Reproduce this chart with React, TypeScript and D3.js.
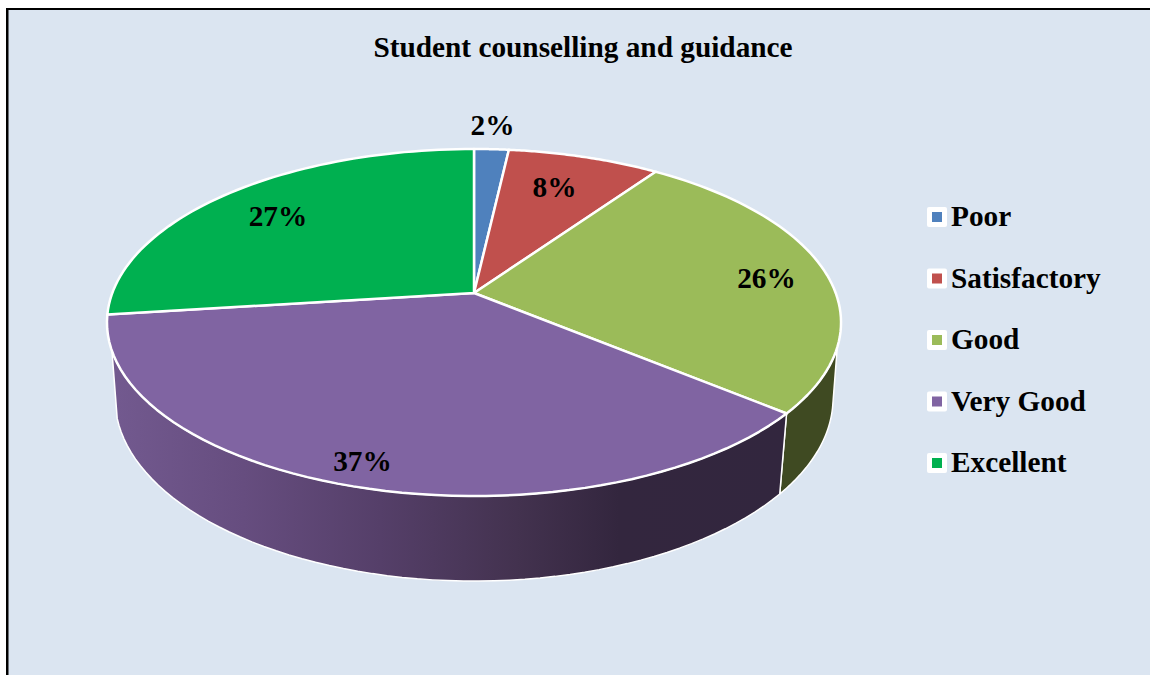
import React from "react";
import * as d3 from "d3";

const categories = ["Poor", "Satisfactory", "Good", "Very Good", "Excellent"];
const shares = [1.8, 7.9, 26.3, 37, 27];
const labels = ["2%", "8%", "26%", "37%", "27%"];
const colors = ["#4f81bd", "#c0504d", "#9bbb59", "#8064a2", "#00b050"];
const sideColors = ["#2f4d71", "#73302e", "#3f4a22", "url(#sideGrad)", "#006a30"];
const labelAnchors = [[492.5, 124.5], [554.5, 186.5], [766.5, 277.5], [362.5, 460.5], [278, 215.5]];

const W = 1150, H = 675;
const K = 0.17;
const deg = Math.PI / 180;
// Perspective mapping of the unit disc onto the top and bottom planes of the pie.
const topPlane = { cx: 474, cy: 293, a: 361.7, b: 168.5 };
const lowPlane = { cx: 474, cy: 367, a: 353.8, b: 177.7 };
// Angular window of the side wall that faces the viewer, on each plane.
const topVisible = [107.8 * deg, 251 * deg];
const lowVisible = [102 * deg, 254 * deg];
type Plane = typeof topPlane;
const project = (p: Plane, t: number): [number, number] => {
  const u = Math.sin(t), v = -Math.cos(t), w = 1 - K * v;
  return [p.cx + (p.a * u) / w, p.cy + (p.b * v) / w];
};
const samples = (a: number, b: number) => d3.range(0, 61).map((i) => a + ((b - a) * i) / 60);

const pie = d3.pie<number>().sort(null).startAngle(0).endAngle(2 * Math.PI);
const arcs = pie(shares);
const line = d3.line();

export default function App() {
  const y = d3.scalePoint<string>().domain(categories).range([217, 463]);
  const font = "'Liberation Serif', 'Times New Roman', serif";
  return (
    <svg width={W} height={H} style={{ position: "absolute", left: 0, top: 0, display: "block" }} fontFamily={font} fontWeight="bold">
      <defs>
        <linearGradient id="sideGrad" gradientUnits="userSpaceOnUse" x1="107" x2="790" y1="0" y2="0">
          <stop offset="0" stopColor="#735a90" />
          <stop offset="0.2" stopColor="#664d7f" />
          <stop offset="0.4" stopColor="#553f69" />
          <stop offset="0.6" stopColor="#43324f" />
          <stop offset="0.75" stopColor="#33263e" />
          <stop offset="1" stopColor="#32263e" />
        </linearGradient>
      </defs>
      <rect x={0} y={0} width={W} height={H} fill="#ffffff" />
      <rect x={6} y={8} width={W} height={H} fill="#000000" />
      <rect x={8.5} y={10} width={W} height={H} fill="#dbe5f1" />
      <text x={583} y={57} textAnchor="middle" fontSize={29.3} fill="#000">Student counselling and guidance</text>

      {arcs.map((d, i) => {
        const a = Math.max(d.startAngle, topVisible[0]), b = Math.min(d.endAngle, topVisible[1]);
        if (b <= a) return null;
        const la = Math.max(d.startAngle, lowVisible[0]);
        const lb = Math.min(d.endAngle, lowVisible[1]);
        const pts = [
          ...samples(a, b).map((t) => project(topPlane, t)),
          ...samples(la, lb).reverse().map((t) => project(lowPlane, t)),
        ];
        return <path key={categories[i]} d={line(pts) + "Z"} fill={sideColors[i]} stroke="#ffffff" strokeWidth={1.5} strokeLinejoin="round" />;
      })}

      {arcs.map((d, i) => {
        const rim = samples(d.startAngle, d.endAngle).map((t) => project(topPlane, t));
        const pts: [number, number][] = [[topPlane.cx, topPlane.cy], ...rim];
        return <path key={categories[i]} d={line(pts) + "Z"} fill={colors[i]} stroke="#ffffff" strokeWidth={2.5} strokeLinejoin="round" />;
      })}

      {labels.map((l, i) => (
        <text key={l} x={labelAnchors[i][0]} y={labelAnchors[i][1]} dy="0.35em" textAnchor="middle" fontSize={29.3} fill="#000">{l}</text>
      ))}

      {categories.map((c, i) => (
        <g key={c} transform={`translate(927,${y(c)})`}>
          <rect x={0} y={-10} width={20} height={20} rx={2} fill="#ffffff" />
          <rect x={5} y={-5} width={10} height={10} fill={colors[i]} />
          <text x={24} y={0} dy="0.31em" fontSize={29.3} fill="#000">{c}</text>
        </g>
      ))}
    </svg>
  );
}
